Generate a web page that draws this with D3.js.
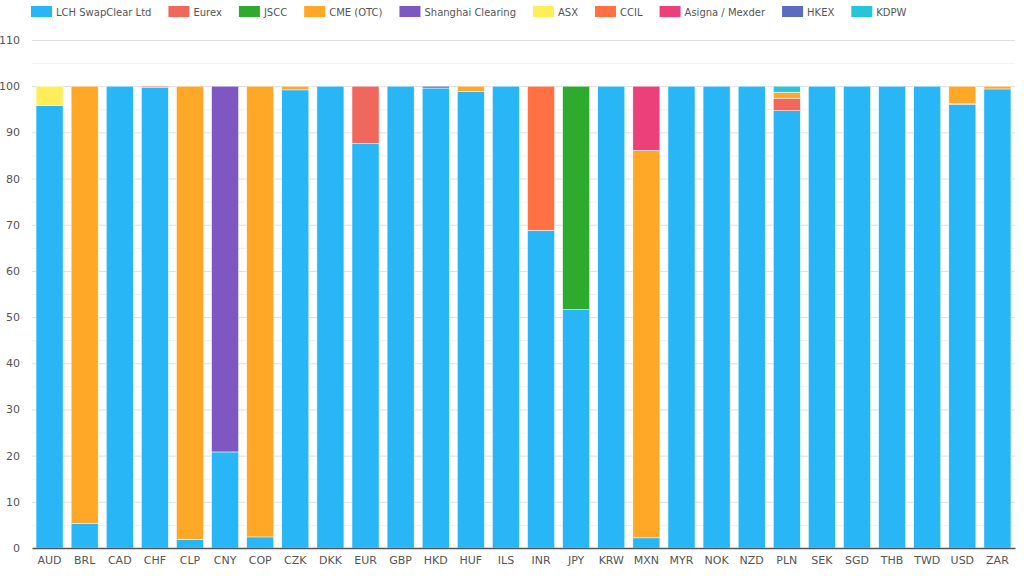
<!DOCTYPE html>
<html>
<head>
<meta charset="utf-8">
<script src="https://cdn.jsdelivr.net/npm/d3@7"></script>
<style>
  body { margin: 0; background: #fff; }
  text { font-family: "DejaVu Sans", Verdana, sans-serif; }
</style>
</head>
<body>
<script>
const currencies = ["AUD","BRL","CAD","CHF","CLP","CNY","COP","CZK","DKK","EUR","GBP","HKD","HUF","ILS",
    "INR","JPY","KRW","MXN","MYR","NOK","NZD","PLN","SEK","SGD","THB","TWD","USD","ZAR"];

const ccps = ["LCH SwapClear Ltd","Eurex","JSCC","CME (OTC)","Shanghai Clearing","ASX","CCIL","Asigna / Mexder","HKEX","KDPW"];
const ccpColors = ["#29b6f6","#f0675c","#2eaa2e","#ffa726","#7e57c2","#ffee58","#ff7043","#ec407a","#5c6bc0","#26c6da"];

//                 AUD  BRL  CAD  CHF  CLP  CNY  COP  CZK  DKK  EUR  GBP  HKD  HUF  ILS  INR  JPY  KRW  MXN  MYR  NOK  NZD  PLN  SEK  SGD  THB  TWD  USD  ZAR
const lch      = [95.8, 5.3, 100, 99.7, 1.9, 20.8, 2.4, 99.2, 100, 87.6, 100, 99.6, 98.8, 100, 68.8, 51.6, 100, 2.2, 100, 100, 100, 94.7, 100, 100, 100, 100, 96.1, 99.4];
const eurex    = [0,    0,   0,   0.3,  0,   0,    0,   0,    0,   12.4, 0,   0,    0,    0,   0,    0,    0,   0,   0,   0,   0,   2.7,  0,   0,   0,   0,   0.2,  0];
const jscc     = [0,    0,   0,   0,    0,   0,    0,   0,    0,   0,    0,   0,    0,    0,   0,    48.4, 0,   0,   0,   0,   0,   0,    0,   0,   0,   0,   0,    0];
const cme      = [0,    94.7,0,   0,    98.1,0,    97.6,0.8,  0,   0,    0,   0,    1.2,  0,   0,    0,    0,   83.9,0,   0,   0,   1.3,  0,   0,   0,   0,   3.7,  0.6];
const shanghai = [0,    0,   0,   0,    0,   79.2, 0,   0,    0,   0,    0,   0,    0,    0,   0,    0,    0,   0,   0,   0,   0,   0,    0,   0,   0,   0,   0,    0];
const asx      = [4.2,  0,   0,   0,    0,   0,    0,   0,    0,   0,    0,   0,    0,    0,   0,    0,    0,   0,   0,   0,   0,   0,    0,   0,   0,   0,   0,    0];
const ccil     = [0,    0,   0,   0,    0,   0,    0,   0,    0,   0,    0,   0,    0,    0,   31.2, 0,    0,   0,   0,   0,   0,   0,    0,   0,   0,   0,   0,    0];
const asigna   = [0,    0,   0,   0,    0,   0,    0,   0,    0,   0,    0,   0,    0,    0,   0,    0,    0,   13.9,0,   0,   0,   0,    0,   0,   0,   0,   0,    0];
const hkex     = [0,    0,   0,   0,    0,   0,    0,   0,    0,   0,    0,   0.4,  0,    0,   0,    0,    0,   0,   0,   0,   0,   0,    0,   0,   0,   0,   0,    0];
const kdpw     = [0,    0,   0,   0,    0,   0,    0,   0,    0,   0,    0,   0,    0,    0,   0,    0,    0,   0,   0,   0,   0,   1.3,  0,   0,   0,   0,   0,    0];

const yTicks = [0, 10, 20, 30, 40, 50, 60, 70, 80, 90, 100, 110];

const series = [lch, eurex, jscc, cme, shanghai, asx, ccil, asigna, hkex, kdpw];

const width = 1024;
const height = 576;
const margin = { top: 40, right: 9, bottom: 28, left: 32 };

const rows = currencies.map((c, i) => {
    const r = { cur: c };
    ccps.forEach((k, j) => { r[k] = series[j][i]; });
    return r;
});

const stacked = d3.stack().keys(ccps)(rows);

const x = d3.scaleBand()
    .domain(currencies)
    .range([margin.left, width - margin.right])
    .paddingInner(0.23)
    .paddingOuter(0.115);

const y = d3.scaleLinear()
    .domain([0, 110])
    .range([height - margin.bottom, margin.top]);

const color = d3.scaleOrdinal().domain(ccps).range(ccpColors);

const svg = d3.select("body").append("svg")
    .attr("width", width)
    .attr("height", height);

// minor grid (every 5)
svg.append("g")
    .selectAll("line")
    .data(d3.range(5, 110, 10))
    .enter()
    .append("line")
    .attr("x1", margin.left)
    .attr("x2", width - margin.right)
    .attr("y1", d => y(d) + 0.5)
    .attr("y2", d => y(d) + 0.5)
    .style("stroke", "#f0f0f0");

// major grid
const yAxis = svg.append("g")
    .attr("transform", `translate(${margin.left},0)`)
    .call(d3.axisLeft(y).tickValues(yTicks).tickSize(-(width - margin.left - margin.right)).tickPadding(12));
yAxis.select(".domain").remove();
yAxis.selectAll(".tick line").style("stroke", "#dedede");
yAxis.selectAll(".tick text")
    .style("font-size", "11px")
    .style("fill", "#555");

svg.append("g")
    .selectAll("g")
    .data(stacked)
    .enter()
    .append("g")
    .style("fill", d => color(d.key))
    .selectAll("rect")
    .data(d => d)
    .enter()
    .append("rect")
    .attr("x", d => x(d.data.cur))
    .attr("y", d => y(d[1]))
    .attr("width", x.bandwidth())
    .attr("height", d => Math.max(0, y(d[0]) - y(d[1])))
    .style("stroke", "#fff")
    .style("stroke-width", d => (d[1] - d[0]) > 0 ? 0.5 : 0);

const xAxis = svg.append("g")
    .attr("transform", `translate(0,${height - margin.bottom})`)
    .call(d3.axisBottom(x).tickSize(0).tickPadding(8));
xAxis.select(".domain").style("stroke", "#555").style("stroke-width", 1.5);
xAxis.selectAll(".tick text")
    .style("font-size", "11px")
    .style("fill", "#555");

// legend
const legend = svg.append("g").attr("transform", "translate(31,6)");
let lx = 0;
ccps.forEach((k, i) => {
    const item = legend.append("g").attr("transform", `translate(${lx},0)`);
    item.append("rect")
        .attr("width", 21)
        .attr("height", 11)
        .style("fill", ccpColors[i]);
    const t = item.append("text")
        .attr("x", 25)
        .attr("y", 9.5)
        .style("font-size", "10px")
        .style("fill", "#555")
        .text(k);
    lx += 25 + t.node().getComputedTextLength() + 17;
});
</script>
</body>
</html>
